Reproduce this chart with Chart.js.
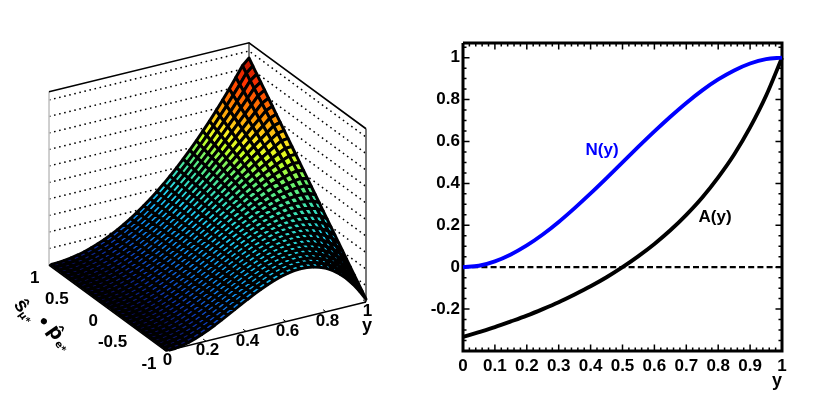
<!DOCTYPE html>
<html><head><meta charset="utf-8">
<style>html,body{margin:0;padding:0;background:#fff;width:830px;height:394px;overflow:hidden}
canvas{position:absolute;top:0}</style>
<script src="https://cdn.jsdelivr.net/npm/chart.js@4/dist/chart.umd.min.js"></script>
</head><body>
<canvas id="surf" width="415" height="394" style="left:0"></canvas>
<canvas id="curves" width="415" height="394" style="left:415px"></canvas>
<script>
// ---- right panel: values
const curveY = [0,.05,.1,.15,.2,.25,.3,.35,.4,.45,.5,.55,.6,.65,.7,.75,.8,.85,.9,.95,1];
const curveN = [0,.007,.028,.061,.104,.156,.216,.282,.352,.425,.5,.575,.648,.718,.784,.844,.896,.939,.972,.993,1];
const curveA = [-.333,-.31,-.286,-.259,-.231,-.2,-.167,-.13,-.091,-.048,0,.053,.111,.176,.25,.333,.429,.538,.667,.818,1];
const xTickValues = [0,.1,.2,.3,.4,.5,.6,.7,.8,.9,1];
const yTickValues = [-.2,0,.2,.4,.6,.8,1];
const yRange = [-.4,1.07];

// ---- left panel: height of the surface along its two y-edges (s.p = +1 and s.p = -1),
// read off the picture; the surface is linear in s.p between those edges.
const edgeBack = [0,.002,.009,.02,.036,.056,.081,.11,.143,.181,.223,.27,.321,.376,.436,.5,.568,.641,.718,.799,.884,.974,1.068,1.165,1.267,1.374,1.484,1.599,1.717,1.84,1.915];
const edgeFront = [0,.004,.017,.036,.061,.092,.127,.166,.208,.251,.295,.339,.383,.425,.464,.5,.532,.558,.579,.592,.597,.594,.582,.559,.525,.479,.419,.346,.257,.153,.033];
const surfYTicks = [0,.2,.4,.6,.8,1];
const surfCTicks = [1,.5,0,-.5,-1];
const wallZTicks = [.2,.4,.6,.8,1,1.2,1.4,1.6,1.8,2];
const paletteZ = [0,.15,.35,.6,.8,.95,1.12,1.22,1.45,1.7,1.92];
const paletteC = ['#0c0c58','#0f3fc0','#0f8cf0','#1fd0f0','#3ce0b0','#62f070','#c8ff20','#f8f020','#ff8c00','#ff3300','#b01000'];

const FONT = 'bold 17px "Liberation Sans", Arial, sans-serif';
const BINS = edgeBack.length - 1;

function project(y, c, z) {
  return {x: 166 + 200*y - 58.5*(c+1), y: 351 - 49*y - 43*(c+1) - 82.5*z};
}
function zAt(i, j) {
  const t = j / BINS;
  return edgeFront[i]*(1-t) + edgeBack[i]*t;
}
function node(i, j) {
  return project(.012 + .988*i/BINS, -1 + 2*j/BINS, zAt(i, j));
}
function colorFor(z) {
  let k = 0;
  while (k < paletteZ.length-1 && z > paletteZ[k+1]) k++;
  if (k === paletteZ.length-1) return paletteC[k];
  const t = (z-paletteZ[k])/(paletteZ[k+1]-paletteZ[k]);
  const hex = s => [1,3,5].map(p => parseInt(s.substr(p,2),16));
  const a = hex(paletteC[k]), b = hex(paletteC[k+1]);
  return 'rgb(' + a.map((v,n) => Math.round(v+(b[n]-v)*t)).join(',') + ')';
}
const seg = (pts, color, width, dash) => ({data: pts, showLine: true, fill: false, borderColor: color, borderWidth: width,
  borderDash: dash || [], pointRadius: 0, tension: 0, clip: false});

const surfSets = [];
for (let i = 0; i < BINS; i++) for (let j = 0; j < BINS; j++) {
  const p = [node(i,j), node(i+1,j), node(i+1,j+1), node(i,j+1)];
  const z = (zAt(i,j)+zAt(i+1,j)+zAt(i+1,j+1)+zAt(i,j+1))/4;
  surfSets.push({data: [...p, p[0]], showLine: true, fill: 'shape', backgroundColor: colorFor(z),
    borderColor: '#000', borderWidth: 3, pointRadius: 0, tension: 0, borderJoinStyle: 'round', clip: false});
}
const ZTOP = 2.1;
// front axes and their ticks
surfSets.push(seg([project(0,1,0), project(0,-1,0), project(1,-1,0)], '#000', 1.6));
const axisTicks = [];
for (const v of surfYTicks) { const a = project(v,-1,0), b = project(v,-.95,0); axisTicks.push(a,b,{x:null,y:null}); }
for (const v of surfCTicks) { const a = project(0,v,0), b = project(.018,v,0); axisTicks.push(a,b,{x:null,y:null}); }
surfSets.push(seg(axisTicks, '#000', 1));
// walls
surfSets.push(seg([project(0,1,ZTOP), project(1,1,ZTOP), project(1,-1,ZTOP)], '#000', 1.6));
surfSets.push(seg([project(1,1,ZTOP), project(1,1,0)], '#222', 1.2));
surfSets.push(seg([project(0,1,ZTOP), project(0,1,0)], '#c8c8c8', 1));
surfSets.push(seg([project(1,-1,ZTOP), project(1,-1,0)], '#555', 1.6));
for (const z of wallZTicks) {
  surfSets.push(seg([project(0,1,z), project(1,1,z), project(1,-1,z)], '#000', 1.5, [1.6,3.6]));
}

const surfLabels = {id: 'surfLabels', afterDraw(ch) {
  const g = ch.ctx, sx = ch.scales.x, sy = ch.scales.y;
  const at = (p) => [sx.getPixelForValue(p.x), sy.getPixelForValue(p.y)];
  g.save(); g.fillStyle = '#000'; g.font = FONT; g.textBaseline = 'middle';
  g.textAlign = 'center';
  for (const v of surfYTicks) { const [x,y] = at(project(v,-1,0)); g.fillText(String(v), x+1.5, y+9.5); }
  const [yx,yy] = at(project(1,-1,0)); g.font = 'bold 18px "Liberation Sans"'; g.fillText('y', yx+1, yy+24); g.font = FONT;
  g.textAlign = 'right';
  for (const v of surfCTicks) { const [x,y] = at(project(0,v,0)); g.fillText(String(v), x-9.5, y+13); }
  g.textAlign = 'center';
  const rot = (t, x, y, font) => { g.save(); g.translate(x,y); g.rotate(55*Math.PI/180); g.font = font; g.fillText(t,0,0); g.restore(); };
  rot('ŝ', 21, 306, 'bold 20px "Liberation Sans"');
  rot('μ*', 24, 318, 'bold 10px "DejaVu Sans"');
  rot('•', 43, 322, 'bold 22px "Liberation Sans"');
  rot('p̂', 55, 333, 'bold 19px "DejaVu Sans"');
  rot('e*', 60, 347, 'bold 10px "DejaVu Sans"');
  g.restore();
}};

new Chart(document.getElementById('surf'), {
  type: 'scatter',
  data: {datasets: surfSets},
  options: {responsive: false, animation: false, events: [], devicePixelRatio: 1,
    layout: {padding: 0},
    plugins: {legend: {display: false}, tooltip: {enabled: false}, title: {display: false}},
    scales: {
      x: {type: 'linear', display: false, min: 0, max: 415},
      y: {type: 'linear', display: false, min: 0, max: 394, reverse: true}
    }},
  plugins: [surfLabels]
});

// ---- right panel
const xy = (xs, ys) => xs.map((x,i) => ({x, y: ys[i]}));
const tickPts = [];
const GAP = {x:null,y:null};
const xLen = 1/318, yLen = 1.47/308;
for (let n = 0; n <= 50; n++) {
  const v = n/50, len = (n%5===0 ? 6.5 : 3.5)*yLen;
  tickPts.push({x:v,y:yRange[0]},{x:v,y:yRange[0]+len},GAP,{x:v,y:yRange[1]},{x:v,y:yRange[1]-len},GAP);
}
for (let n = -7; n <= 21; n++) {
  const v = n*.05, len = (n%4===0 ? 6.5 : 3.5)*xLen;
  tickPts.push({x:0,y:v},{x:len,y:v},GAP,{x:1,y:v},{x:1-len,y:v},GAP);
}
const curveLabels = {id:'curveLabels', afterDraw(ch){
  const g = ch.ctx, sx = ch.scales.x, sy = ch.scales.y;
  g.save(); g.font = 'bold 17px "Liberation Sans"'; g.textAlign='center'; g.textBaseline='middle';
  g.fillStyle='#0000ff'; g.fillText('N(y)', sx.getPixelForValue(.436), sy.getPixelForValue(.56));
  g.fillStyle='#000'; g.fillText('A(y)', sx.getPixelForValue(.79), sy.getPixelForValue(.24));
  g.restore();
}};
new Chart(document.getElementById('curves'), {
  type: 'scatter',
  data: {datasets: [
    {label:'N(y)', data: xy(curveY,curveN), showLine:true, borderColor:'#0000ff', borderWidth:3.9, pointRadius:0, cubicInterpolationMode:'monotone', clip:false, fill:false},
    {label:'A(y)', data: xy(curveY,curveA), showLine:true, borderColor:'#000', borderWidth:3.9, pointRadius:0, cubicInterpolationMode:'monotone', clip:false, fill:false},
    seg([{x:0,y:0},{x:1,y:0}], '#000', 2.2, [6,3.2]),
    seg([{x:0,y:yRange[1]},{x:1,y:yRange[1]},{x:1,y:yRange[0]},{x:0,y:yRange[0]},{x:0,y:yRange[1]}], '#000', 3),
    seg(tickPts, '#000', 1.5)
  ]},
  options: {responsive:false, animation:false, events:[], devicePixelRatio:1,
    layout:{padding:{left:0,top:43,right:48,bottom:0}},
    plugins:{legend:{display:false}, tooltip:{enabled:false}},
    scales:{
      x:{type:'linear', min:0, max:1, grid:{display:false, drawTicks:false}, border:{display:false},
        afterBuildTicks:s=>{s.ticks=xTickValues.map(v=>({value:v}));},
        afterFit:s=>{s.height=43;},
        title:{display:true, text:'y', align:'end', color:'#000', font:{family:'"Liberation Sans"',size:18,weight:'bold'}, padding:{top:0,bottom:2}},
        ticks:{color:'#000', padding:5, maxRotation:0, autoSkip:false, font:{family:'"Liberation Sans"',size:17,weight:'bold'}, callback:v=>String(v)}},
      y:{type:'linear', min:yRange[0], max:yRange[1], grid:{display:false, drawTicks:false}, border:{display:false},
        afterBuildTicks:s=>{s.ticks=yTickValues.map(v=>({value:v}));},
        afterFit:s=>{s.width=48;},
        ticks:{color:'#000', padding:3, autoSkip:false, font:{family:'"Liberation Sans"',size:17,weight:'bold'}, callback:v=>String(v)}}
    }},
  plugins:[curveLabels]
});
</script>
</body></html>
